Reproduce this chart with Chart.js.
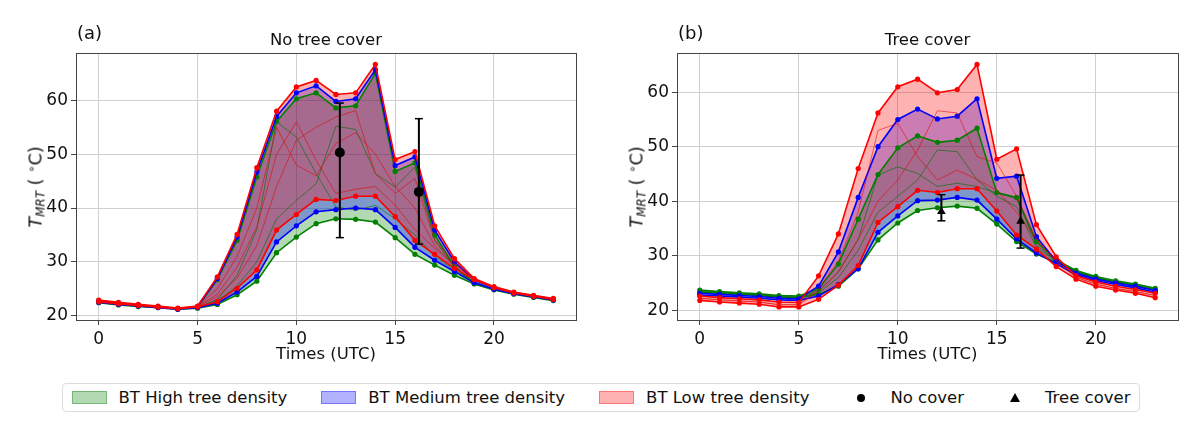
<!DOCTYPE html>
<html>
<head>
<meta charset="utf-8">
<script src="https://cdn.jsdelivr.net/npm/chart.js@4.4.1/dist/chart.umd.min.js"></script>
<style>
body { margin: 0; background: #fff; font-family: "DejaVu Sans", sans-serif; color: #111; }
#wrap { position: relative; width: 1200px; height: 427px; overflow: hidden; }
canvas { position: absolute; top: 0; }
#ca { left: 0; }
#cb { left: 600px; }
.tag { position: absolute; font-size: 18px; line-height: 20px; }
.ttl { position: absolute; font-size: 16.5px; line-height: 20px; text-align: center; }
.ylab { position: absolute; font-size: 17.5px; white-space: nowrap; transform: translate(-50%, -50%) rotate(-90deg); }
.ylab sub { font-size: 12px; vertical-align: -3px; }
.ylab sup { font-size: 12px; vertical-align: 6px; }
#legend { position: absolute; left: 62px; top: 383px; width: 1078px; height: 29px; border: 1px solid #dcdcdc; border-radius: 4px;
  display: flex; align-items: center; justify-content: center; gap: 34px; font-size: 16.5px; box-sizing: border-box; }
.item { display: flex; align-items: center; }
.hd { width: 35px; height: 13px; margin-right: 12px; display: flex; align-items: center; justify-content: center; box-sizing: border-box; }
.dot { width: 8px; height: 8px; border-radius: 50%; background: #000; }
.tri { width: 0; height: 0; border-left: 5px solid transparent; border-right: 5px solid transparent; border-bottom: 9px solid #000; }
</style>
</head>
<body>
<div id="wrap">
  <canvas id="ca" width="600" height="368"></canvas>
  <canvas id="cb" width="600" height="368"></canvas>
  <div class="tag" style="left:77px;top:23px">(a)</div>
  <div class="ttl" style="left:76px;width:500px;top:30px">No tree cover</div>
  <div class="tag" style="left:678px;top:23px">(b)</div>
  <div class="ttl" style="left:677px;width:501px;top:30px">Tree cover</div>
  <div class="ylab" style="left:36px;top:187px"><i>T</i><sub><i>MRT</i></sub> ( <sup>∘</sup>C)</div>
  <div class="ylab" style="left:637px;top:187px"><i>T</i><sub><i>MRT</i></sub> ( <sup>∘</sup>C)</div>
  <div id="legend">
    <div class="item"><div class="hd" style="background:rgba(0,128,0,0.3);border:1px solid rgba(0,128,0,0.35)"></div>BT High tree density</div>
    <div class="item"><div class="hd" style="background:rgba(0,0,255,0.3);border:1px solid rgba(0,0,255,0.35)"></div>BT Medium tree density</div>
    <div class="item"><div class="hd" style="background:rgba(255,0,0,0.3);border:1px solid rgba(255,0,0,0.35)"></div>BT Low tree density</div>
    <div class="item"><div class="hd"><div class="dot"></div></div>No cover</div>
    <div class="item"><div class="hd"><div class="tri"></div></div>Tree cover</div>
  </div>
</div>
<script>
const hours = [0,1,2,3,4,5,6,7,8,9,10,11,12,13,14,15,16,17,18,19,20,21,22,23];
const xTicks = [0, 5, 10, 15, 20];
const yTicks = [20, 30, 40, 50, 60];

// (a) no tree cover: envelopes per density
const aRedMax   = [22.9,22.5,22.1,21.8,21.4,21.8,27.2,35.1,47.5,58.0,62.5,63.7,61.1,61.4,66.7,49.0,50.5,36.7,30.6,26.9,25.4,24.4,23.8,23.2];
const aBlueMax  = [22.8,22.4,22.0,21.7,21.3,21.7,26.9,34.6,46.7,57.0,61.4,62.7,59.8,60.3,65.7,47.9,49.5,35.9,30.0,26.6,25.2,24.3,23.7,23.1];
const aGreenMax = [22.7,22.3,21.9,21.7,21.3,21.6,26.7,34.0,45.8,56.1,60.3,61.4,58.6,59.0,65.0,46.8,48.4,35.0,29.1,26.0,24.9,24.2,23.6,23.0];
const aRedMin   = [22.6,22.2,21.9,21.6,21.3,21.6,22.6,25.1,28.5,35.9,38.8,41.6,41.4,42.2,42.2,38.4,34.0,31.4,28.8,26.7,25.2,24.2,23.6,23.0];
const aBlueMin  = [22.5,22.1,21.8,21.5,21.2,21.5,22.3,24.4,27.3,33.7,36.7,39.3,39.7,40.0,39.7,36.4,32.7,30.3,28.2,26.1,24.9,24.1,23.5,22.9];
const aGreenMin = [22.4,22.0,21.7,21.5,21.2,21.4,22.1,23.9,26.4,31.7,34.6,37.1,38.0,37.9,37.4,34.5,31.4,29.4,27.5,25.9,24.8,24.0,23.4,22.8];
const aRedThin1   = [22.8,22.4,22.0,21.7,21.3,21.7,24.0,29.0,36.5,50.0,56.0,48.9,42.7,43.5,44.0,40.5,36.0,32.5,29.5,26.8,25.3,24.3,23.7,23.1];
const aRedThin2   = [22.8,22.4,22.0,21.7,21.3,21.7,23.5,27.0,33.0,44.0,52.6,55.0,56.9,58.1,46.4,42.7,45.5,34.0,29.8,26.8,25.3,24.3,23.7,23.1];
const aRedThin3   = [22.7,22.3,22.0,21.7,21.3,21.7,25.0,31.0,40.0,55.0,48.0,46.0,52.0,54.0,50.0,44.0,40.0,33.0,29.2,26.8,25.3,24.3,23.7,23.1];
const aGreenThin1 = [22.6,22.2,21.9,21.6,21.3,21.6,23.0,27.5,36.0,56.0,53.2,46.4,40.2,39.6,40.5,38.0,35.0,31.0,28.5,26.3,24.9,24.1,23.5,22.9];
const aGreenThin2 = [22.6,22.2,21.9,21.6,21.3,21.6,22.8,25.5,30.0,38.0,41.4,44.5,55.2,54.6,46.4,43.9,47.6,34.0,29.0,26.3,24.9,24.1,23.5,22.9];

// (b) tree cover
const bRedMax   = [22.6,22.3,22.1,21.9,21.5,21.4,26.3,34.0,46.0,56.2,61.0,62.4,59.9,60.5,65.1,47.7,49.6,35.7,29.8,26.3,25.2,24.4,23.8,23.1];
const bBlueMax  = [23.1,22.9,22.7,22.5,22.2,22.1,24.4,30.7,40.7,50.0,55.0,56.9,55.1,55.6,58.8,44.2,44.6,33.5,29.0,26.8,25.7,25.0,24.4,23.6];
const bGreenMax = [23.7,23.4,23.2,23.0,22.7,22.6,23.9,28.5,36.7,44.9,49.8,52.0,50.8,51.2,53.4,41.6,40.7,32.6,29.2,27.3,26.2,25.4,24.8,24.0];
const bRedMin   = [21.8,21.5,21.3,21.1,20.6,20.6,22.0,24.6,28.2,36.1,39.0,42.0,41.6,42.3,42.3,38.2,33.8,31.2,28.0,25.7,24.4,23.7,23.1,22.3];
const bBlueMin  = [22.8,22.6,22.4,22.2,21.9,21.8,22.6,24.7,27.6,34.3,37.3,40.1,40.2,40.7,40.2,36.7,33.1,30.5,28.5,26.5,25.4,24.7,24.1,23.3];
const bGreenMin = [23.3,23.1,22.9,22.7,22.4,22.3,22.9,24.4,27.6,32.9,36.0,38.3,38.8,39.1,38.7,35.8,32.6,30.3,28.8,27.0,25.9,25.1,24.5,23.7];
const bRedThin1   = [22.2,21.9,21.7,21.5,21.0,21.0,24.0,29.0,38.0,53.0,54.3,48.2,43.9,45.7,44.0,42.0,38.0,33.0,29.0,26.0,24.8,24.0,23.4,22.7];
const bRedThin2   = [22.2,21.9,21.7,21.5,21.0,21.0,23.5,27.0,33.0,40.0,43.9,49.4,56.6,56.2,48.2,47.0,40.9,33.0,29.0,26.0,24.8,24.0,23.4,22.7];
const bGreenThin1 = [23.5,23.2,23.0,22.8,22.5,22.4,23.5,27.0,33.0,44.8,46.3,45.1,42.7,43.3,42.7,41.5,40.5,32.0,29.0,27.1,26.0,25.2,24.6,23.8];
const bGreenThin2 = [23.5,23.2,23.0,22.8,22.5,22.4,23.2,26.0,31.0,38.0,40.9,43.9,49.4,49.1,43.9,40.9,39.0,31.5,29.0,27.1,26.0,25.2,24.6,23.8];

// observations with error bars
const obsX = [12.2, 16.2];
const aObsMean = [50.3, 43.0];
const aObsLow  = [34.5, 33.3];
const aObsHigh = [59.5, 56.6];
const bObsMean = [38.1, 36.3];
const bObsLow  = [36.4, 31.4];
const bObsHigh = [41.2, 44.8];

const pts = arr => hours.map((h, i) => ({ x: h, y: arr[i] }));

function envelope(list, minArr, maxArr, color, fillColor, order) {
  const idx = list.length;
  list.push({ data: pts(minArr), borderColor: color, borderWidth: 1.6, pointRadius: 2.6, pointBackgroundColor: color,
    pointBorderWidth: 0, fill: false, order: order });
  list.push({ data: pts(maxArr), borderColor: color, borderWidth: 1.6, pointRadius: 2.6, pointBackgroundColor: color,
    pointBorderWidth: 0, backgroundColor: fillColor, fill: { target: idx }, order: order });
}

function thin(list, arr, color, order) {
  list.push({ data: pts(arr), borderColor: color, borderWidth: 1, pointRadius: 0, fill: false, order: order });
}

function errorBars(list, means, lows, highs, style) {
  obsX.forEach((x, i) => {
    list.push({ data: [{ x: x, y: lows[i] }, { x: x, y: highs[i] }], borderColor: '#000', borderWidth: 2,
      pointStyle: 'line', pointRadius: 4, pointBorderColor: '#000', pointBorderWidth: 1.5, fill: false, order: 1 });
  });
  list.push({ data: obsX.map((x, i) => ({ x: x, y: means[i] })), showLine: false, pointStyle: style,
    pointRadius: 5, pointBackgroundColor: '#000', pointBorderColor: '#000', pointBorderWidth: 0, order: 0 });
}

const frame = {
  id: 'frame',
  afterDatasetsDraw(chart) {
    const a = chart.chartArea, c = chart.ctx;
    c.save();
    c.strokeStyle = '#444';
    c.lineWidth = 1;
    c.strokeRect(Math.round(a.left) + 0.5, Math.round(a.top) + 0.5, Math.round(a.right - a.left), Math.round(a.bottom - a.top));
    c.restore();
  }
};

function makeChart(id, datasets, yMin, yMax, yWidth, padRight) {
  return new Chart(document.getElementById(id), {
    type: 'line',
    data: { datasets: datasets },
    plugins: [frame],
    options: {
      responsive: false,
      animation: false,
      events: [],
      layout: { padding: { left: 0, right: padRight, top: 53, bottom: 0 } },
      plugins: { legend: { display: false }, tooltip: { enabled: false }, filler: { drawTime: 'beforeDatasetsDraw' } },
      scales: {
        x: {
          type: 'linear', min: -1.15, max: 24.15,
          afterBuildTicks: s => { s.ticks = xTicks.map(v => ({ value: v })); },
          afterFit: s => { s.height = 48; },
          grid: { color: '#d0d0d0', lineWidth: 1, tickLength: 5, tickColor: '#444' },
          border: { display: false },
          ticks: { color: '#111', font: { family: 'DejaVu Sans', size: 17 }, padding: 4, maxRotation: 0 },
          title: { display: true, text: 'Times (UTC)', color: '#111', font: { family: 'DejaVu Sans', size: 16.5 }, padding: { top: 0, bottom: 3 } }
        },
        y: {
          min: yMin, max: yMax,
          afterBuildTicks: s => { s.ticks = yTicks.map(v => ({ value: v })); },
          afterFit: s => { s.width = yWidth; },
          grid: { color: '#d0d0d0', lineWidth: 1, tickLength: 5, tickColor: '#444' },
          border: { display: false },
          ticks: { color: '#111', font: { family: 'DejaVu Sans', size: 17 }, padding: 3 }
        }
      }
    }
  });
}

const G = 'green', B = 'blue', R = 'red';
const gFill = 'rgba(0,128,0,0.3)', bFill = 'rgba(0,0,255,0.3)', rFill = 'rgba(255,0,0,0.3)';

const dsA = [];
envelope(dsA, aGreenMin, aGreenMax, G, gFill, 40);
thin(dsA, aGreenThin1, 'rgba(0,110,0,0.6)', 35);
thin(dsA, aGreenThin2, 'rgba(0,110,0,0.6)', 35);
envelope(dsA, aBlueMin, aBlueMax, B, bFill, 30);
thin(dsA, aRedThin1, 'rgba(230,0,0,0.55)', 25);
thin(dsA, aRedThin2, 'rgba(230,0,0,0.55)', 25);
thin(dsA, aRedThin3, 'rgba(230,0,0,0.55)', 25);
envelope(dsA, aRedMin, aRedMax, R, rFill, 20);
errorBars(dsA, aObsMean, aObsLow, aObsHigh, 'circle');

const dsB = [];
envelope(dsB, bGreenMin, bGreenMax, G, gFill, 40);
thin(dsB, bGreenThin1, 'rgba(0,110,0,0.6)', 35);
thin(dsB, bGreenThin2, 'rgba(0,110,0,0.6)', 35);
envelope(dsB, bBlueMin, bBlueMax, B, bFill, 30);
thin(dsB, bRedThin1, 'rgba(230,0,0,0.55)', 25);
thin(dsB, bRedThin2, 'rgba(230,0,0,0.55)', 25);
envelope(dsB, bRedMin, bRedMax, R, rFill, 20);
errorBars(dsB, bObsMean, bObsLow, bObsHigh, 'triangle');

makeChart('ca', dsA, 19.2, 68.8, 76, 24);
makeChart('cb', dsB, 18.2, 67.2, 77, 22);
</script>
</body>
</html>
